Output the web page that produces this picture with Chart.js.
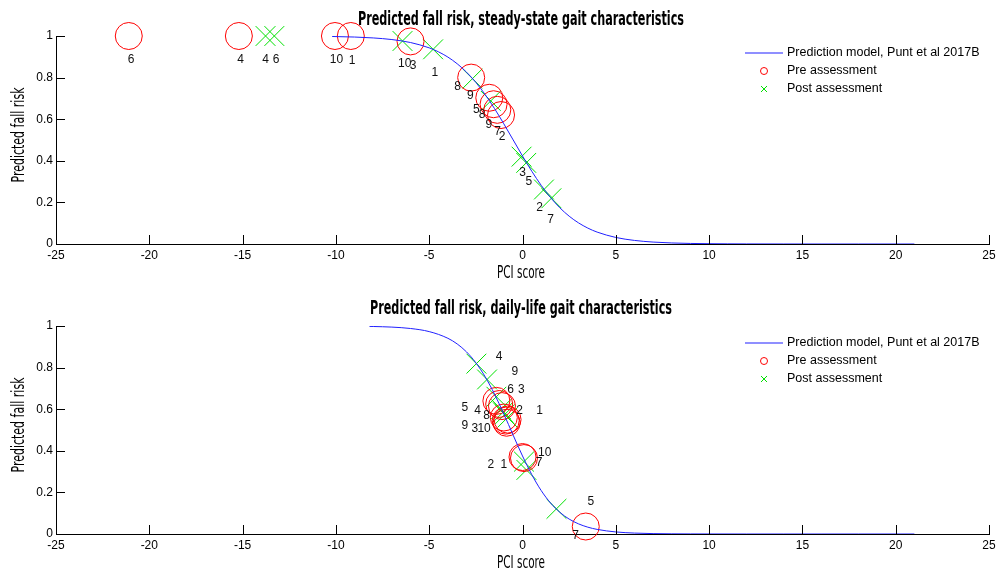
<!DOCTYPE html>
<html>
<head>
<meta charset="utf-8">
<script src="https://cdn.jsdelivr.net/npm/chart.js@4.4.1/dist/chart.umd.min.js"></script>
<style>
  html, body { margin: 0; padding: 0; background: #fff; overflow: hidden; }
  canvas { position: absolute; left: 0; }
  #top { top: 0; }
  #bottom { top: 290px; }
</style>
</head>
<body>
<canvas id="top" width="998" height="289"></canvas>
<canvas id="bottom" width="998" height="289"></canvas>
<script>
// axis ticks
const xTicks = [-25, -20, -15, -10, -5, 0, 5, 10, 15, 20, 25];
const yTicks = [0, 0.2, 0.4, 0.6, 0.8, 1];

// steady-state gait: model curve
const curveTopX = [-10.2, -9, -8, -7, -6, -5, -4.5, -4, -3.5, -3, -2.5, -2, -1.5, -1, -0.5, 0, 0.5, 1, 1.5, 2, 2.5, 3, 3.5, 4, 5, 6, 7, 8, 9, 10, 11, 12, 14, 16, 18, 21];
const curveTopY = [0.9976, 0.995, 0.9907, 0.9829, 0.9686, 0.943, 0.9237, 0.8987, 0.8665, 0.8262, 0.7769, 0.7183, 0.6512, 0.5776, 0.5004, 0.4231, 0.3494, 0.2823, 0.2237, 0.1742, 0.1338, 0.1017, 0.0765, 0.0572, 0.0315, 0.0172, 0.0093, 0.005, 0.0027, 0.0015, 0.0008, 0.0004, 0.0001, 0, 0, 0];

const preTopX = [-21.1, -15.2, -10.05, -9.2, -6.0, -2.75, -1.78, -1.55, -1.35, -1.15];
const preTopY = [1, 1, 1, 1, 0.974, 0.80, 0.703, 0.672, 0.645, 0.62];
const postTopX = [-13.77, -13.3, -6.43, -4.79, -2.68, -1.7, -0.05, 0.2, 1.15, 1.55];
const postTopY = [1, 1, 0.976, 0.936, 0.795, 0.688, 0.42, 0.39, 0.262, 0.22];

const tagTopText = ["6", "4", "4", "6", "10", "1", "10", "3", "1", "8", "9", "5", "8", "9", "7", "2", "3", "5", "2", "7"];
const tagTopX = [-20.98, -15.11, -13.77, -13.2, -9.97, -9.13, -6.31, -5.86, -4.7, -3.48, -2.79, -2.47, -2.17, -1.81, -1.34, -1.1, 0.0, 0.34, 0.92, 1.51];
const tagTopY = [0.886, 0.886, 0.886, 0.886, 0.886, 0.883, 0.869, 0.859, 0.826, 0.754, 0.715, 0.644, 0.624, 0.572, 0.54, 0.516, 0.343, 0.30, 0.175, 0.116];

// daily-life gait
const curveBotX = [-8.2, -8, -7, -6, -5, -4, -3.5, -3, -2.5, -2, -1.5, -1, -0.5, 0, 0.5, 1, 1.5, 2, 2.5, 3, 3.5, 4, 5, 6, 7, 8, 9, 10, 12, 14, 16, 18, 21];
const curveBotY = [0.998, 0.9976, 0.9947, 0.988, 0.9731, 0.941, 0.9137, 0.8754, 0.8234, 0.7559, 0.6726, 0.5769, 0.475, 0.3752, 0.285, 0.2092, 0.1493, 0.1043, 0.0717, 0.0488, 0.0329, 0.0221, 0.0099, 0.0044, 0.0019, 0.0009, 0.0004, 0.0002, 0, 0, 0, 0, 0];

const preBotX = [-1.4, -1.25, -1.1, -1.0, -0.9, -0.8, -0.85, 0.0, 0.08, 3.39];
const preBotY = [0.64, 0.625, 0.615, 0.56, 0.545, 0.55, 0.535, 0.37, 0.365, 0.036];
const postBotX = [-2.47, -1.9, -1.4, -1.15, -1.05, -0.95, -0.8, 0.08, 0.21, 1.82];
const postBotY = [0.819, 0.743, 0.66, 0.6, 0.585, 0.575, 0.56, 0.348, 0.308, 0.121];

const tagBotText = ["4", "9", "6", "3", "5", "4", "8", "2", "1", "9", "3", "10", "10", "7", "2", "1", "5", "7"];
const tagBotX = [-1.26, -0.41, -0.64, -0.06, -3.09, -2.41, -1.93, -0.15, 0.92, -3.09, -2.56, -2.06, 1.19, 0.89, -1.7, -1.0, 3.66, 2.84];
const tagBotY = [0.851, 0.779, 0.695, 0.695, 0.607, 0.591, 0.567, 0.591, 0.591, 0.519, 0.508, 0.508, 0.391, 0.345, 0.332, 0.332, 0.156, -0.008];

const BLUE = "#2020ff";
const RED = "#ff0000";
const GREEN = "#00e000";
const NARROW = '"Liberation Sans Narrow", "DejaVu Sans Condensed", sans-serif';
const SANS = '"Liberation Sans", Arial, sans-serif';

function pts(xs, ys) {
  return xs.map((v, i) => ({ x: v, y: ys[i] }));
}

// text squeezed horizontally to a given width (matlab's narrow font)
function narrowText(ctx, text, x, y, font, width, rot) {
  ctx.save();
  ctx.font = font;
  ctx.translate(x, y);
  if (rot) ctx.rotate(rot);
  const w = ctx.measureText(text).width;
  ctx.scale(width / w, 1);
  ctx.textAlign = "center";
  ctx.textBaseline = "alphabetic";
  ctx.fillStyle = "#000";
  ctx.fillText(text, 0, 0);
  ctx.restore();
}

const decor = {
  id: "decor",
  afterDatasetsDraw(chart, args, o) {
    const { ctx, chartArea: a, scales: { x, y } } = chart;
    ctx.save();

    // inward tick marks
    ctx.strokeStyle = "#000";
    ctx.lineWidth = 1;
    ctx.beginPath();
    x.ticks.forEach(t => {
      const p = Math.round(x.getPixelForValue(t.value)) + 0.5;
      ctx.moveTo(p, a.bottom);
      ctx.lineTo(p, a.bottom - 9);
    });
    y.ticks.forEach(t => {
      const p = Math.round(y.getPixelForValue(t.value)) + 0.5;
      ctx.moveTo(a.left, p);
      ctx.lineTo(a.left + 9, p);
    });
    ctx.stroke();

    // subject numbers
    ctx.font = "12px " + SANS;
    ctx.fillStyle = "#111";
    ctx.textAlign = "center";
    ctx.textBaseline = "middle";
    o.tags.text.forEach((t, i) => {
      ctx.fillText(t, x.getPixelForValue(o.tags.x[i]), y.getPixelForValue(o.tags.y[i]));
    });

    // titles
    narrowText(ctx, o.title, 521, o.titleBase, "bold 20px " + NARROW, o.titleWidth);
    narrowText(ctx, "PCI score", 521, 278, "17px " + NARROW, 48);
    narrowText(ctx, "Predicted fall risk", 24, 135, "17px " + NARROW, 95, -Math.PI / 2);

    // legend
    const lx = 764, ty = [53, 71, 89];
    ctx.strokeStyle = BLUE;
    ctx.lineWidth = 1.2;
    ctx.beginPath();
    ctx.moveTo(745, ty[0]);
    ctx.lineTo(783, ty[0]);
    ctx.stroke();
    ctx.lineWidth = 1;
    ctx.strokeStyle = RED;
    ctx.beginPath();
    ctx.arc(lx, ty[1], 3.5, 0, Math.PI * 2);
    ctx.stroke();
    ctx.strokeStyle = GREEN;
    ctx.beginPath();
    ctx.moveTo(lx - 3, ty[2] - 3); ctx.lineTo(lx + 3, ty[2] + 3);
    ctx.moveTo(lx + 3, ty[2] - 3); ctx.lineTo(lx - 3, ty[2] + 3);
    ctx.stroke();
    ctx.font = "12.5px " + SANS;
    ctx.fillStyle = "#000";
    ctx.textAlign = "left";
    ctx.textBaseline = "middle";
    ["Prediction model, Punt et al 2017B", "Pre assessment", "Post assessment"].forEach((t, i) => {
      ctx.fillText(t, 787, ty[i]);
    });
    ctx.restore();
  }
};

function makeChart(id, curveX, curveY, preX, preY, postX, postY, tags, title, titleWidth, titleBase) {
  return new Chart(document.getElementById(id), {
    type: "scatter",
    data: {
      datasets: [
        {
          type: "line",
          data: pts(curveX, curveY),
          borderColor: BLUE,
          borderWidth: 1,
          pointRadius: 0,
          cubicInterpolationMode: "monotone",
          fill: false
        },
        {
          data: pts(preX, preY),
          pointStyle: "circle",
          pointRadius: 13.5,
          borderColor: RED,
          backgroundColor: "rgba(0,0,0,0)",
          borderWidth: 1,
          clip: false
        },
        {
          data: pts(postX, postY),
          pointStyle: "crossRot",
          pointRadius: 14,
          borderColor: GREEN,
          backgroundColor: GREEN,
          borderWidth: 1,
          clip: false
        }
      ]
    },
    options: {
      responsive: false,
      animation: false,
      devicePixelRatio: 1,
      events: [],
      layout: { autoPadding: false, padding: { top: 36, right: 9, left: 0, bottom: 0 } },
      scales: {
        x: {
          type: "linear",
          min: -25,
          max: 25,
          afterBuildTicks: s => { s.ticks = xTicks.map(v => ({ value: v })); },
          afterFit: s => { s.height = 45; s.paddingLeft = 0; s.paddingRight = 0; },
          grid: { drawOnChartArea: false, drawTicks: false },
          border: { display: true, color: "#000", width: 1 },
          ticks: { autoSkip: false, maxRotation: 0, padding: 4, color: "#000", font: { family: SANS, size: 12 }, callback: v => String(v) }
        },
        y: {
          type: "linear",
          min: 0,
          max: 1,
          afterBuildTicks: s => { s.ticks = yTicks.map(v => ({ value: v })); },
          afterFit: s => { s.width = 56; s.paddingTop = 0; s.paddingBottom = 0; },
          grid: { drawOnChartArea: false, drawTicks: false },
          border: { display: true, color: "#000", width: 1 },
          ticks: { padding: 3, color: "#000", font: { family: SANS, size: 12 }, callback: v => String(Math.round(v * 10) / 10) }
        }
      },
      plugins: {
        legend: { display: false },
        tooltip: { enabled: false },
        decor: { tags: tags, title: title, titleWidth: titleWidth, titleBase: titleBase }
      }
    },
    plugins: [decor]
  });
}

makeChart("top", curveTopX, curveTopY, preTopX, preTopY, postTopX, postTopY,
  { text: tagTopText, x: tagTopX, y: tagTopY },
  "Predicted fall risk, steady-state gait characteristics", 326, 25);

makeChart("bottom", curveBotX, curveBotY, preBotX, preBotY, postBotX, postBotY,
  { text: tagBotText, x: tagBotX, y: tagBotY },
  "Predicted fall risk, daily-life gait characteristics", 302, 24);
</script>
</body>
</html>
